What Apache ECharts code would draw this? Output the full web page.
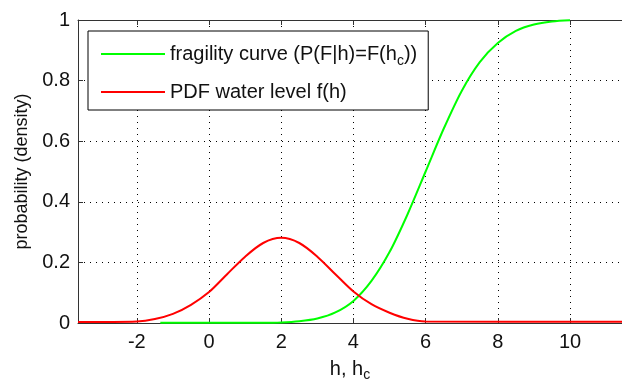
<!DOCTYPE html>
<html><head><meta charset="utf-8">
<script src="https://cdn.jsdelivr.net/npm/echarts@6/dist/echarts.min.js"></script>
<style>html,body{margin:0;padding:0;background:#fff}#c{width:622px;height:382px}</style>
</head><body><div id="c"></div>
<script>
var xTicks = [-2, 0, 2, 4, 6, 8, 10];
var yTicks = [0, 0.2, 0.4, 0.6, 0.8, 1];
var pdfH = [-3.63, -2, -1.5, -1, -0.5, 0, 0.5, 1, 1.5, 2, 2.5, 3, 3.5, 4, 4.5, 5, 5.5, 6, 11.44];
var pdfF = [0.003, 0.005, 0.013, 0.030, 0.060, 0.102, 0.161, 0.219, 0.264, 0.281, 0.264, 0.219, 0.161, 0.104, 0.062, 0.034, 0.014, 0.005, 0.004];
var fragH = [-1.35, 1.5, 2, 2.5, 3, 3.5, 4, 4.5, 5, 5.5, 6, 6.5, 7, 7.5, 8, 8.5, 9, 9.5, 10];
var fragF = [0.001, 0.001, 0.002, 0.006, 0.015, 0.035, 0.073, 0.139, 0.234, 0.359, 0.5, 0.641, 0.766, 0.861, 0.924, 0.964, 0.985, 0.995, 0.999];
var names = ['fragility curve (P(F|h)=F(h_c))', 'PDF water level f(h)'];

function zip(a, b) { return a.map(function (v, i) { return [v, b[i]]; }); }
var FONT = '"Liberation Sans", Arial, sans-serif';
var TXT = '#111';
var FS = 20;
var SUB = 14;
var chart = echarts.init(document.getElementById('c'), null, { renderer: 'canvas' });
var axisCol = '#333';
var dots = { color: '#000', type: [1, 5], width: 1 };
chart.setOption({
  animation: false,
  grid: { left: 78, right: 0, top: 20, bottom: 59, outerBoundsMode: 'none', containLabel: false },
  textStyle: { fontFamily: FONT },
  legend: {
    orient: 'vertical', left: 88, top: 31,
    backgroundColor: '#fff', borderColor: '#000', borderWidth: 1,
    padding: [9, 11, 6, 12], itemGap: 12, itemWidth: 64, itemHeight: 14,
    data: names,
    itemStyle: { opacity: 0 },
    lineStyle: { width: 2 },
    textStyle: {
      fontFamily: FONT, fontSize: FS, color: TXT, lineHeight: 24,
      rich: {
        a: { fontFamily: FONT, fontSize: FS, color: TXT, lineHeight: 24 },
        s: { fontFamily: FONT, fontSize: SUB, color: TXT, lineHeight: 24, padding: [14, 0, 0, 0] }
      }
    },
    formatter: function (n) {
      if (n === names[0]) return '{a|fragility curve (P(F|h)=F(h}{s|c}{a|))}';
      return '{a|' + n + '}';
    }
  },
  xAxis: [{
    type: 'value', min: -3.63, max: 11.44, position: 'bottom',
    name: '{a|h, h}{s|c}', nameLocation: 'middle', nameGap: 33,
    nameTextStyle: { rich: {
      a: { fontFamily: FONT, fontSize: FS, color: TXT },
      s: { fontFamily: FONT, fontSize: SUB, color: TXT, padding: [12, 0, 0, 0] } } },
    axisLine: { show: true, onZero: false, lineStyle: { color: axisCol, width: 1 } },
    axisTick: { show: true, inside: true, length: 5, customValues: xTicks, lineStyle: { color: axisCol } },
    axisLabel: { customValues: xTicks, fontFamily: FONT, fontSize: FS, color: TXT, margin: 9 },
    splitLine: { show: true, lineStyle: dots }
  }, {
    type: 'value', min: -3.63, max: 11.44, position: 'top',
    axisLine: { show: true, onZero: false, lineStyle: { color: axisCol, width: 1 } },
    axisTick: { show: true, inside: true, length: 5, customValues: xTicks, lineStyle: { color: axisCol } },
    axisLabel: { show: false, customValues: xTicks },
    splitLine: { show: false }
  }],
  yAxis: {
    type: 'value', min: 0, max: 1, interval: 0.2,
    name: 'probability (density)', nameLocation: 'middle', nameGap: 46,
    nameTextStyle: { fontFamily: FONT, fontSize: 18, color: TXT },
    axisLine: { show: true, onZero: false, lineStyle: { color: axisCol, width: 1 } },
    axisTick: { show: true, inside: true, length: 5, lineStyle: { color: axisCol } },
    axisLabel: { fontFamily: FONT, fontSize: FS, color: TXT, margin: 8 },
    splitLine: { show: true, lineStyle: dots }
  },
  series: [{
    name: names[0], type: 'line', data: zip(fragH, fragF), smooth: 0.3,
    symbol: 'none', lineStyle: { color: '#00ff00', width: 2 }, itemStyle: { color: '#00ff00' }, z: 3
  }, {
    name: names[1], type: 'line', data: zip(pdfH, pdfF), smooth: 0.3,
    symbol: 'none', lineStyle: { color: '#ff0000', width: 2 }, itemStyle: { color: '#ff0000' }, z: 4
  }]
});
</script></body></html>
